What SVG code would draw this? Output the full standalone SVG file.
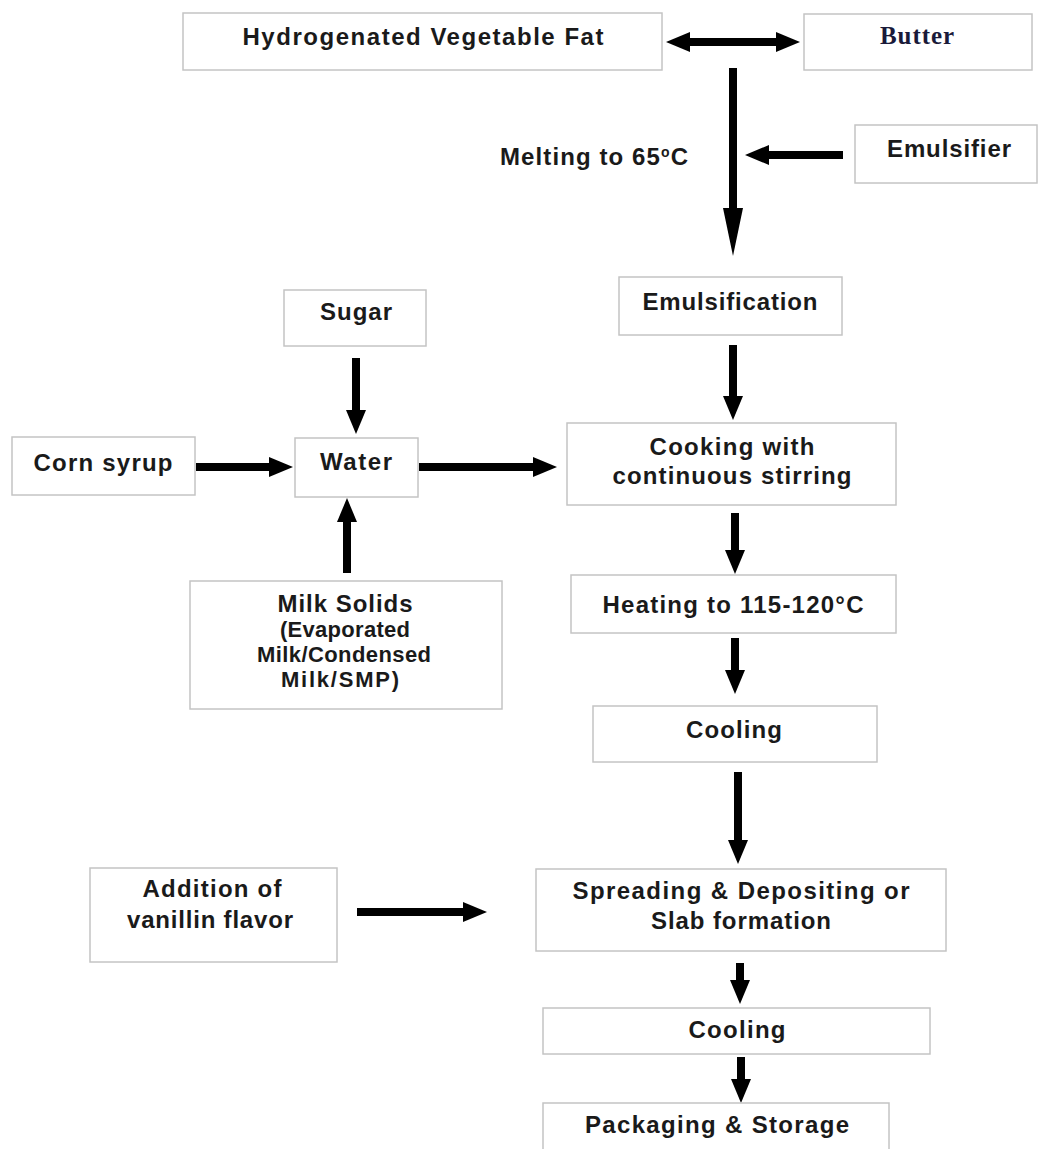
<svg xmlns="http://www.w3.org/2000/svg" width="1038" height="1149" viewBox="0 0 1038 1149">
<style>
  .box { fill: #ffffff; stroke: #c4c4c4; stroke-width: 1.5; }
  .t { font-family: "Liberation Sans", Arial, sans-serif; font-weight: bold; font-size: 24px; fill: #1a1a1a; text-anchor: middle; }
  .ts { font-size: 22px; }
  .serif { font-family: "Liberation Serif", "Times New Roman", serif; font-size: 25px; fill: #1a1a3a; }
  .c { stroke: #000; stroke-width: 8; fill: none; }
</style>
<defs>
  <marker id="ah" markerUnits="userSpaceOnUse" markerWidth="24" markerHeight="20" refX="0" refY="10" orient="auto-start-reverse">
    <path d="M0,0 L24,10 L0,20 Z" fill="#000"/>
  </marker>
  <marker id="ahL" markerUnits="userSpaceOnUse" markerWidth="48" markerHeight="20" refX="0" refY="10" orient="auto">
    <path d="M0,0 L48,10 L0,20 Z" fill="#000"/>
  </marker>
</defs>
<rect width="1038" height="1149" fill="#ffffff"/>

<g id="connectors">
  <line class="c" x1="690" y1="42" x2="776" y2="42" marker-start="url(#ah)" marker-end="url(#ah)"/>
  <line class="c" x1="733" y1="68" x2="733" y2="208" marker-end="url(#ahL)"/>
  <line class="c" x1="843" y1="155" x2="769" y2="155" marker-end="url(#ah)"/>
  <line class="c" x1="733" y1="345" x2="733" y2="396" marker-end="url(#ah)"/>
  <line class="c" x1="356" y1="358" x2="356" y2="410" marker-end="url(#ah)"/>
  <line class="c" x1="196" y1="467" x2="269" y2="467" marker-end="url(#ah)"/>
  <line class="c" x1="419" y1="467" x2="533" y2="467" marker-end="url(#ah)"/>
  <line class="c" x1="347" y1="573" x2="347" y2="522" marker-end="url(#ah)"/>
  <line class="c" x1="735" y1="513" x2="735" y2="550" marker-end="url(#ah)"/>
  <line class="c" x1="735" y1="638" x2="735" y2="670" marker-end="url(#ah)"/>
  <line class="c" x1="738" y1="772" x2="738" y2="840" marker-end="url(#ah)"/>
  <line class="c" x1="357" y1="912" x2="463" y2="912" marker-end="url(#ah)"/>
  <line class="c" x1="740" y1="963" x2="740" y2="980" marker-end="url(#ah)"/>
  <line class="c" x1="741" y1="1057" x2="741" y2="1079" marker-end="url(#ah)"/>
</g>

<g id="hvf">
  <rect class="box" x="183" y="13" width="479" height="57"/>
  <text class="t" x="423" y="45" textLength="361">Hydrogenated Vegetable Fat</text>
</g>
<g id="butter">
  <rect class="box" x="804" y="14" width="228" height="56"/>
  <text class="t serif" x="917" y="44" textLength="74">Butter</text>
</g>
<g id="melting">
  <text class="t" x="500" y="165" style="text-anchor:start" textLength="188">Melting to 65<tspan font-size="14" dy="-8">o</tspan><tspan dy="8">C</tspan></text>
</g>
<g id="emulsifier">
  <rect class="box" x="855" y="125" width="182" height="58"/>
  <text class="t" x="949" y="157" textLength="124">Emulsifier</text>
</g>
<g id="emulsification">
  <rect class="box" x="619" y="277" width="223" height="58"/>
  <text class="t" x="730" y="310" textLength="175">Emulsification</text>
</g>
<g id="sugar">
  <rect class="box" x="284" y="290" width="142" height="56"/>
  <text class="t" x="356" y="320" textLength="72">Sugar</text>
</g>
<g id="corn">
  <rect class="box" x="12" y="437" width="183" height="58"/>
  <text class="t" x="103" y="471" textLength="139">Corn syrup</text>
</g>
<g id="water">
  <rect class="box" x="295" y="438" width="123" height="59"/>
  <text class="t" x="356" y="470" textLength="72">Water</text>
</g>
<g id="cooking">
  <rect class="box" x="567" y="423" width="329" height="82"/>
  <text class="t" x="732" y="455" textLength="165">Cooking with</text>
  <text class="t" x="732" y="484" textLength="239">continuous stirring</text>
</g>
<g id="milk">
  <rect class="box" x="190" y="581" width="312" height="128"/>
  <text class="t" x="345" y="612" textLength="135">Milk Solids</text>
  <text class="t ts" x="345" y="637" textLength="130">(Evaporated</text>
  <text class="t ts" x="344" y="662" textLength="174">Milk/Condensed</text>
  <text class="t ts" x="340" y="687" textLength="118">Milk/SMP)</text>
</g>
<g id="heating">
  <rect class="box" x="571" y="575" width="325" height="58"/>
  <text class="t" x="733" y="613" textLength="261">Heating to 115-120°C</text>
</g>
<g id="cooling1">
  <rect class="box" x="593" y="706" width="284" height="56"/>
  <text class="t" x="734" y="738" textLength="96">Cooling</text>
</g>
<g id="addition">
  <rect class="box" x="90" y="868" width="247" height="94"/>
  <text class="t" x="212" y="897" textLength="139">Addition of</text>
  <text class="t" x="210" y="928" textLength="166">vanillin flavor</text>
</g>
<g id="spreading">
  <rect class="box" x="536" y="869" width="410" height="82"/>
  <text class="t" x="741" y="899" textLength="337">Spreading &amp; Depositing or</text>
  <text class="t" x="741" y="929" textLength="180">Slab formation</text>
</g>
<g id="cooling2">
  <rect class="box" x="543" y="1008" width="387" height="46"/>
  <text class="t" x="737" y="1038" textLength="97">Cooling</text>
</g>
<g id="packaging">
  <rect class="box" x="543" y="1103" width="346" height="60"/>
  <text class="t" x="717" y="1133" textLength="264">Packaging &amp; Storage</text>
</g>
</svg>
